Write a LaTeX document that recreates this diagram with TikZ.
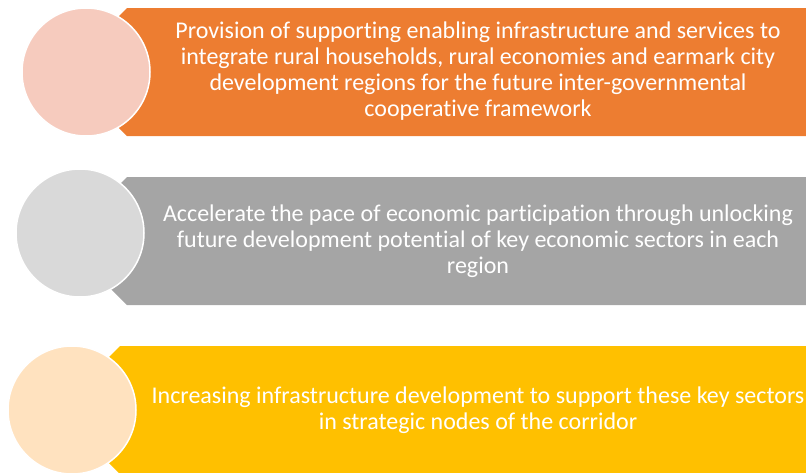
\documentclass[tikz,border=0pt]{standalone}
\usepackage{fontspec}
\setmainfont{Carlito}[Ligatures={NoCommon}]
\definecolor{bandorange}{HTML}{ED7D31}
\definecolor{bandgray}{HTML}{A5A5A5}
\definecolor{bandyellow}{HTML}{FFC000}
\definecolor{dotorange}{HTML}{F6CBBE}
\definecolor{dotgray}{HTML}{D9D9D9}
\definecolor{dotyellow}{HTML}{FFE2BF}
\begin{document}
\begin{tikzpicture}[x=1pt,y=-1pt,
  dot/.style={circle,draw=white,line width=1.5pt,minimum size=128pt,inner sep=0pt},
  txt/.style={text=white,align=center,font=\fontsize{24}{26}\selectfont}]
  \useasboundingbox (0,0) rectangle (806,472);
  \clip (0,0) rectangle (806,472);
  % banners: left edge / top / colour
  \foreach \bx/\by/\col in {107/8/bandorange,107/177/bandgray,100/346/bandyellow}
    \fill[\col] (\bx,\by+20) -- (\bx+20,\by) -- (812,\by) -- (812,\by+128)
      -- (\bx+20,\by+128) -- (\bx,\by+108) -- cycle;
  % circles
  \node[dot,fill=dotorange] (c1) at (86,72)  {};
  \node[dot,fill=dotgray]   (c2) at (80,233) {};
  \node[dot,fill=dotyellow] (c3) at (72,410) {};
  % texts
  \node[txt] (t1) at (478,71) {Provision of supporting enabling infrastructure and services to\\
    integrate rural households, rural economies and earmark city\\
    development regions for the future inter-governmental\\
    cooperative framework};
  \node[txt] (t2) at (478,241) {Accelerate the pace of economic participation through unlocking\\
    future development potential of key economic sectors in each\\
    region};
  \node[txt] (t3) at (478,410) {Increasing infrastructure development to support these key sectors\\
    in strategic nodes of the corridor};
\end{tikzpicture}
\end{document}
